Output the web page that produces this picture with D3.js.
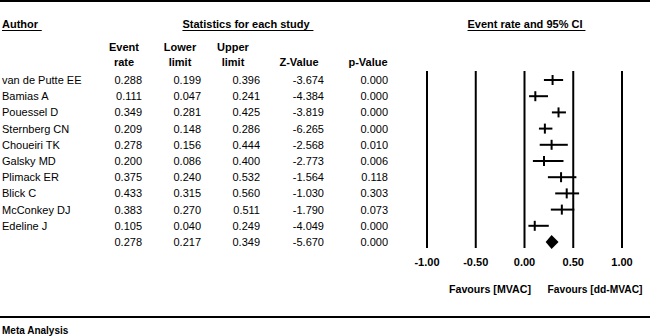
<!DOCTYPE html>
<html>
<head>
<meta charset="utf-8">
<script src="https://cdn.jsdelivr.net/npm/d3@7"></script>
<style>
  body { margin: 0; background: #fff; }
  svg text { font-family: "Liberation Sans", Arial, sans-serif; font-size: 11px; fill: #000; }
  .b { font-weight: bold; }
</style>
</head>
<body>
<svg id="chart" width="650" height="336"></svg>
<script>
const authors = ["van de Putte EE", "Bamias A", "Pouessel D", "Sternberg CN", "Choueiri TK",
    "Galsky MD", "Plimack ER", "Blick C", "McConkey DJ", "Edeline J"];
const eventRate = [0.288, 0.111, 0.349, 0.209, 0.278, 0.200, 0.375, 0.433, 0.383, 0.105];
const lowerLimit = [0.199, 0.047, 0.281, 0.148, 0.156, 0.086, 0.240, 0.315, 0.270, 0.040];
const upperLimit = [0.396, 0.241, 0.425, 0.286, 0.444, 0.400, 0.532, 0.560, 0.511, 0.249];
const zValue = [-3.674, -4.384, -3.819, -6.265, -2.568, -2.773, -1.564, -1.030, -1.790, -4.049];
const pValue = [0.000, 0.000, 0.000, 0.000, 0.010, 0.006, 0.118, 0.303, 0.073, 0.000];
const pooled = { rate: 0.278, lower: 0.217, upper: 0.349, z: -5.670, p: 0.000 };
const xTicks = [-1, -0.5, 0, 0.5, 1];

const svg = d3.select("#chart");
// plain hyphen for negatives, as in the source table
const loc = d3.formatLocale({ decimal: ".", thousands: ",", grouping: [3], currency: ["", ""], minus: "-" });
const fmt = loc.format(".3f");
const fmtTick = loc.format(".2f");

const studies = authors.map((a, i) => ({
    author: a, rate: eventRate[i], lower: lowerLimit[i], upper: upperLimit[i],
    z: zValue[i], p: pValue[i]
}));

const rows = d3.scaleLinear().domain([0, 10]).range([80, 242]);
const x = d3.scaleLinear().domain([-1, 1]).range([427, 622]);

// frame lines
svg.append("line").attr("x1", 0).attr("x2", 650).attr("y1", 1).attr("y2", 1)
    .attr("stroke", "#000").attr("stroke-width", 2);
svg.append("line").attr("x1", 0).attr("x2", 650).attr("y1", 317).attr("y2", 317)
    .attr("stroke", "#000").attr("stroke-width", 2);

// underlined headings
function heading(txt, xPos, anchor) {
    const t = svg.append("text").attr("class", "b").attr("x", xPos).attr("y", 28)
        .attr("text-anchor", anchor).text(txt);
    const bb = t.node().getBBox();
    svg.append("line").attr("x1", bb.x).attr("x2", bb.x + bb.width + 3)
        .attr("y1", 30.5).attr("y2", 30.5).attr("stroke", "#000").attr("stroke-width", 1);
}
heading("Author", 2, "start");
heading("Statistics for each study", 246, "middle");
heading("Event rate and 95% CI", 525, "middle");

// column headers
const cols = [
    { key: "rate", right: 142, head: ["Event", "rate"], center: 124 },
    { key: "lower", right: 201, head: ["Lower", "limit"], center: 180 },
    { key: "upper", right: 260, head: ["Upper", "limit"], center: 233 },
    { key: "z", right: 324, head: ["Z-Value"], center: 299 },
    { key: "p", right: 388, head: ["p-Value"], center: 368 }
];
cols.forEach(c => {
    c.head.forEach((h, j) => {
        const y = c.head.length === 2 ? 51 + j * 15 : 66;
        svg.append("text").attr("class", "b").attr("x", c.center).attr("y", y)
            .attr("text-anchor", "middle").text(h);
    });
});

// study rows
const allRows = studies.concat([{ author: "", ...pooled }]);
allRows.forEach((d, i) => {
    const y = rows(i) + 4;
    svg.append("text").attr("x", 2).attr("y", y).text(d.author);
    cols.forEach(c => {
        svg.append("text").attr("x", c.right).attr("y", y).attr("text-anchor", "end")
            .text(fmt(d[c.key]));
    });
});

// forest grid lines
svg.append("g").selectAll("line").data(xTicks).join("line")
    .attr("x1", d => x(d)).attr("x2", d => x(d))
    .attr("y1", 71).attr("y2", 248)
    .attr("stroke", "#000").attr("stroke-width", 2);

// axis tick labels
svg.append("g").selectAll("text").data(xTicks).join("text")
    .attr("class", "b").attr("x", d => x(d)).attr("y", 266)
    .attr("text-anchor", "middle").text(fmtTick);

// whiskers and point ticks
const marks = svg.append("g");
studies.forEach((d, i) => {
    const y = rows(i);
    marks.append("line").attr("x1", x(d.lower)).attr("x2", x(d.upper))
        .attr("y1", y).attr("y2", y).attr("stroke", "#000").attr("stroke-width", 2);
    marks.append("line").attr("x1", x(d.rate)).attr("x2", x(d.rate))
        .attr("y1", y - 5).attr("y2", y + 5).attr("stroke", "#000").attr("stroke-width", 2);
});

// pooled diamond
const py = rows(10);
marks.append("path")
    .attr("d", `M${x(pooled.lower)},${py} L${x(pooled.rate)},${py - 7} L${x(pooled.upper)},${py} L${x(pooled.rate)},${py + 7} Z`)
    .attr("fill", "#000");

// favours labels
svg.append("text").attr("class", "b").attr("x", 490).attr("y", 293)
    .attr("text-anchor", "middle").attr("textLength", 82).attr("lengthAdjust", "spacingAndGlyphs")
    .text("Favours [MVAC]");
svg.append("text").attr("class", "b").attr("x", 595).attr("y", 293)
    .attr("text-anchor", "middle").attr("textLength", 95).attr("lengthAdjust", "spacingAndGlyphs")
    .text("Favours [dd-MVAC]");

svg.append("text").attr("class", "b").attr("x", 2).attr("y", 334)
    .style("font-size", "10px").text("Meta Analysis");
</script>
</body>
</html>
